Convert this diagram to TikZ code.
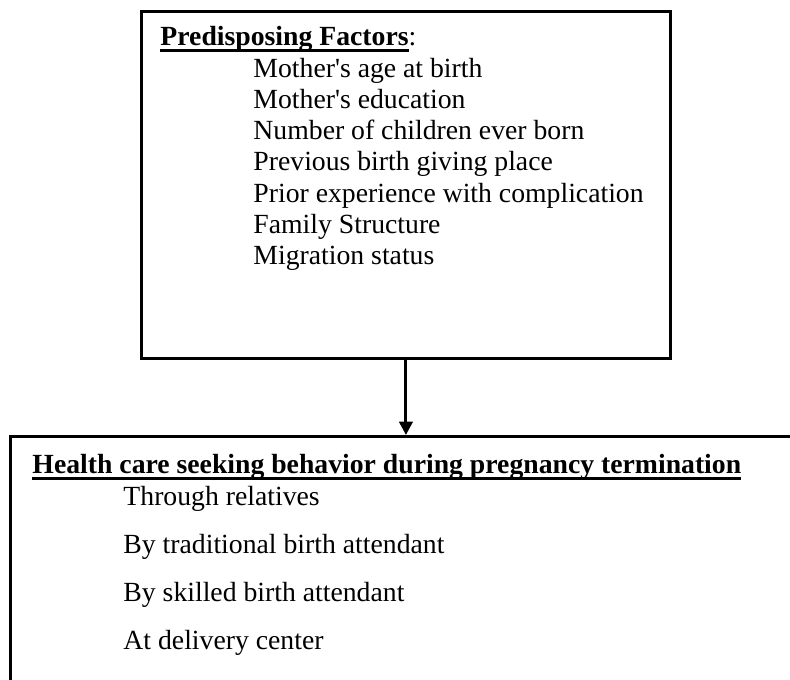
\documentclass[tikz,border=0pt]{standalone}
\usepackage{fontspec}
\setmainfont{Liberation Serif}
\usetikzlibrary{arrows.meta}

\newcommand\ulhead[1]{\setbox0\hbox{\textbf{#1}}\rlap{\rule[-2.9pt]{\wd0}{1.2pt}}\box0}

\begin{document}
\begin{tikzpicture}[x=0.433pt,y=-0.433pt,
    font=\fontsize{12}{14}\selectfont,
    panel/.style={draw, line width=1.3pt, rectangle, anchor=north west},
    entry/.style={anchor=base west, inner sep=0pt}]

  \clip (0,0) rectangle (790,679);

  \node [panel, minimum width=229pt, minimum height=150.3pt] (factors) at (140,10) {};
  \node [panel, minimum width=370pt, minimum height=130pt] (seeking) at (9,435) {};

  \node [entry] (factorsHead) at (160,45) {\ulhead{Predisposing Factors}:};
  \foreach \t [count=\i] in {Mother\textquotesingle s age at birth, Mother\textquotesingle s education,
      Number of children ever born, Previous birth giving place,
      Prior experience with complication, Family Structure, Migration status}
    \node [entry] (factor\i) at (253,{77+31.3*(\i-1)}) {\t};

  \node [entry] (seekingHead) at (32,473) {\ulhead{Health care seeking behavior during pregnancy termination}};
  \node [entry] (way1) at (123,505) {Through relatives};
  \node [entry] (way2) at (123,553) {By traditional birth attendant};
  \node [entry] (way3) at (123,601) {By skilled birth attendant};
  \node [entry] (way4) at (123,649) {At delivery center};

  \draw [-{Triangle[length=5.8pt,width=5.8pt]}, line width=1.3pt] (factors.south) -- (factors.south |- seeking.north);

\end{tikzpicture}
\end{document}
